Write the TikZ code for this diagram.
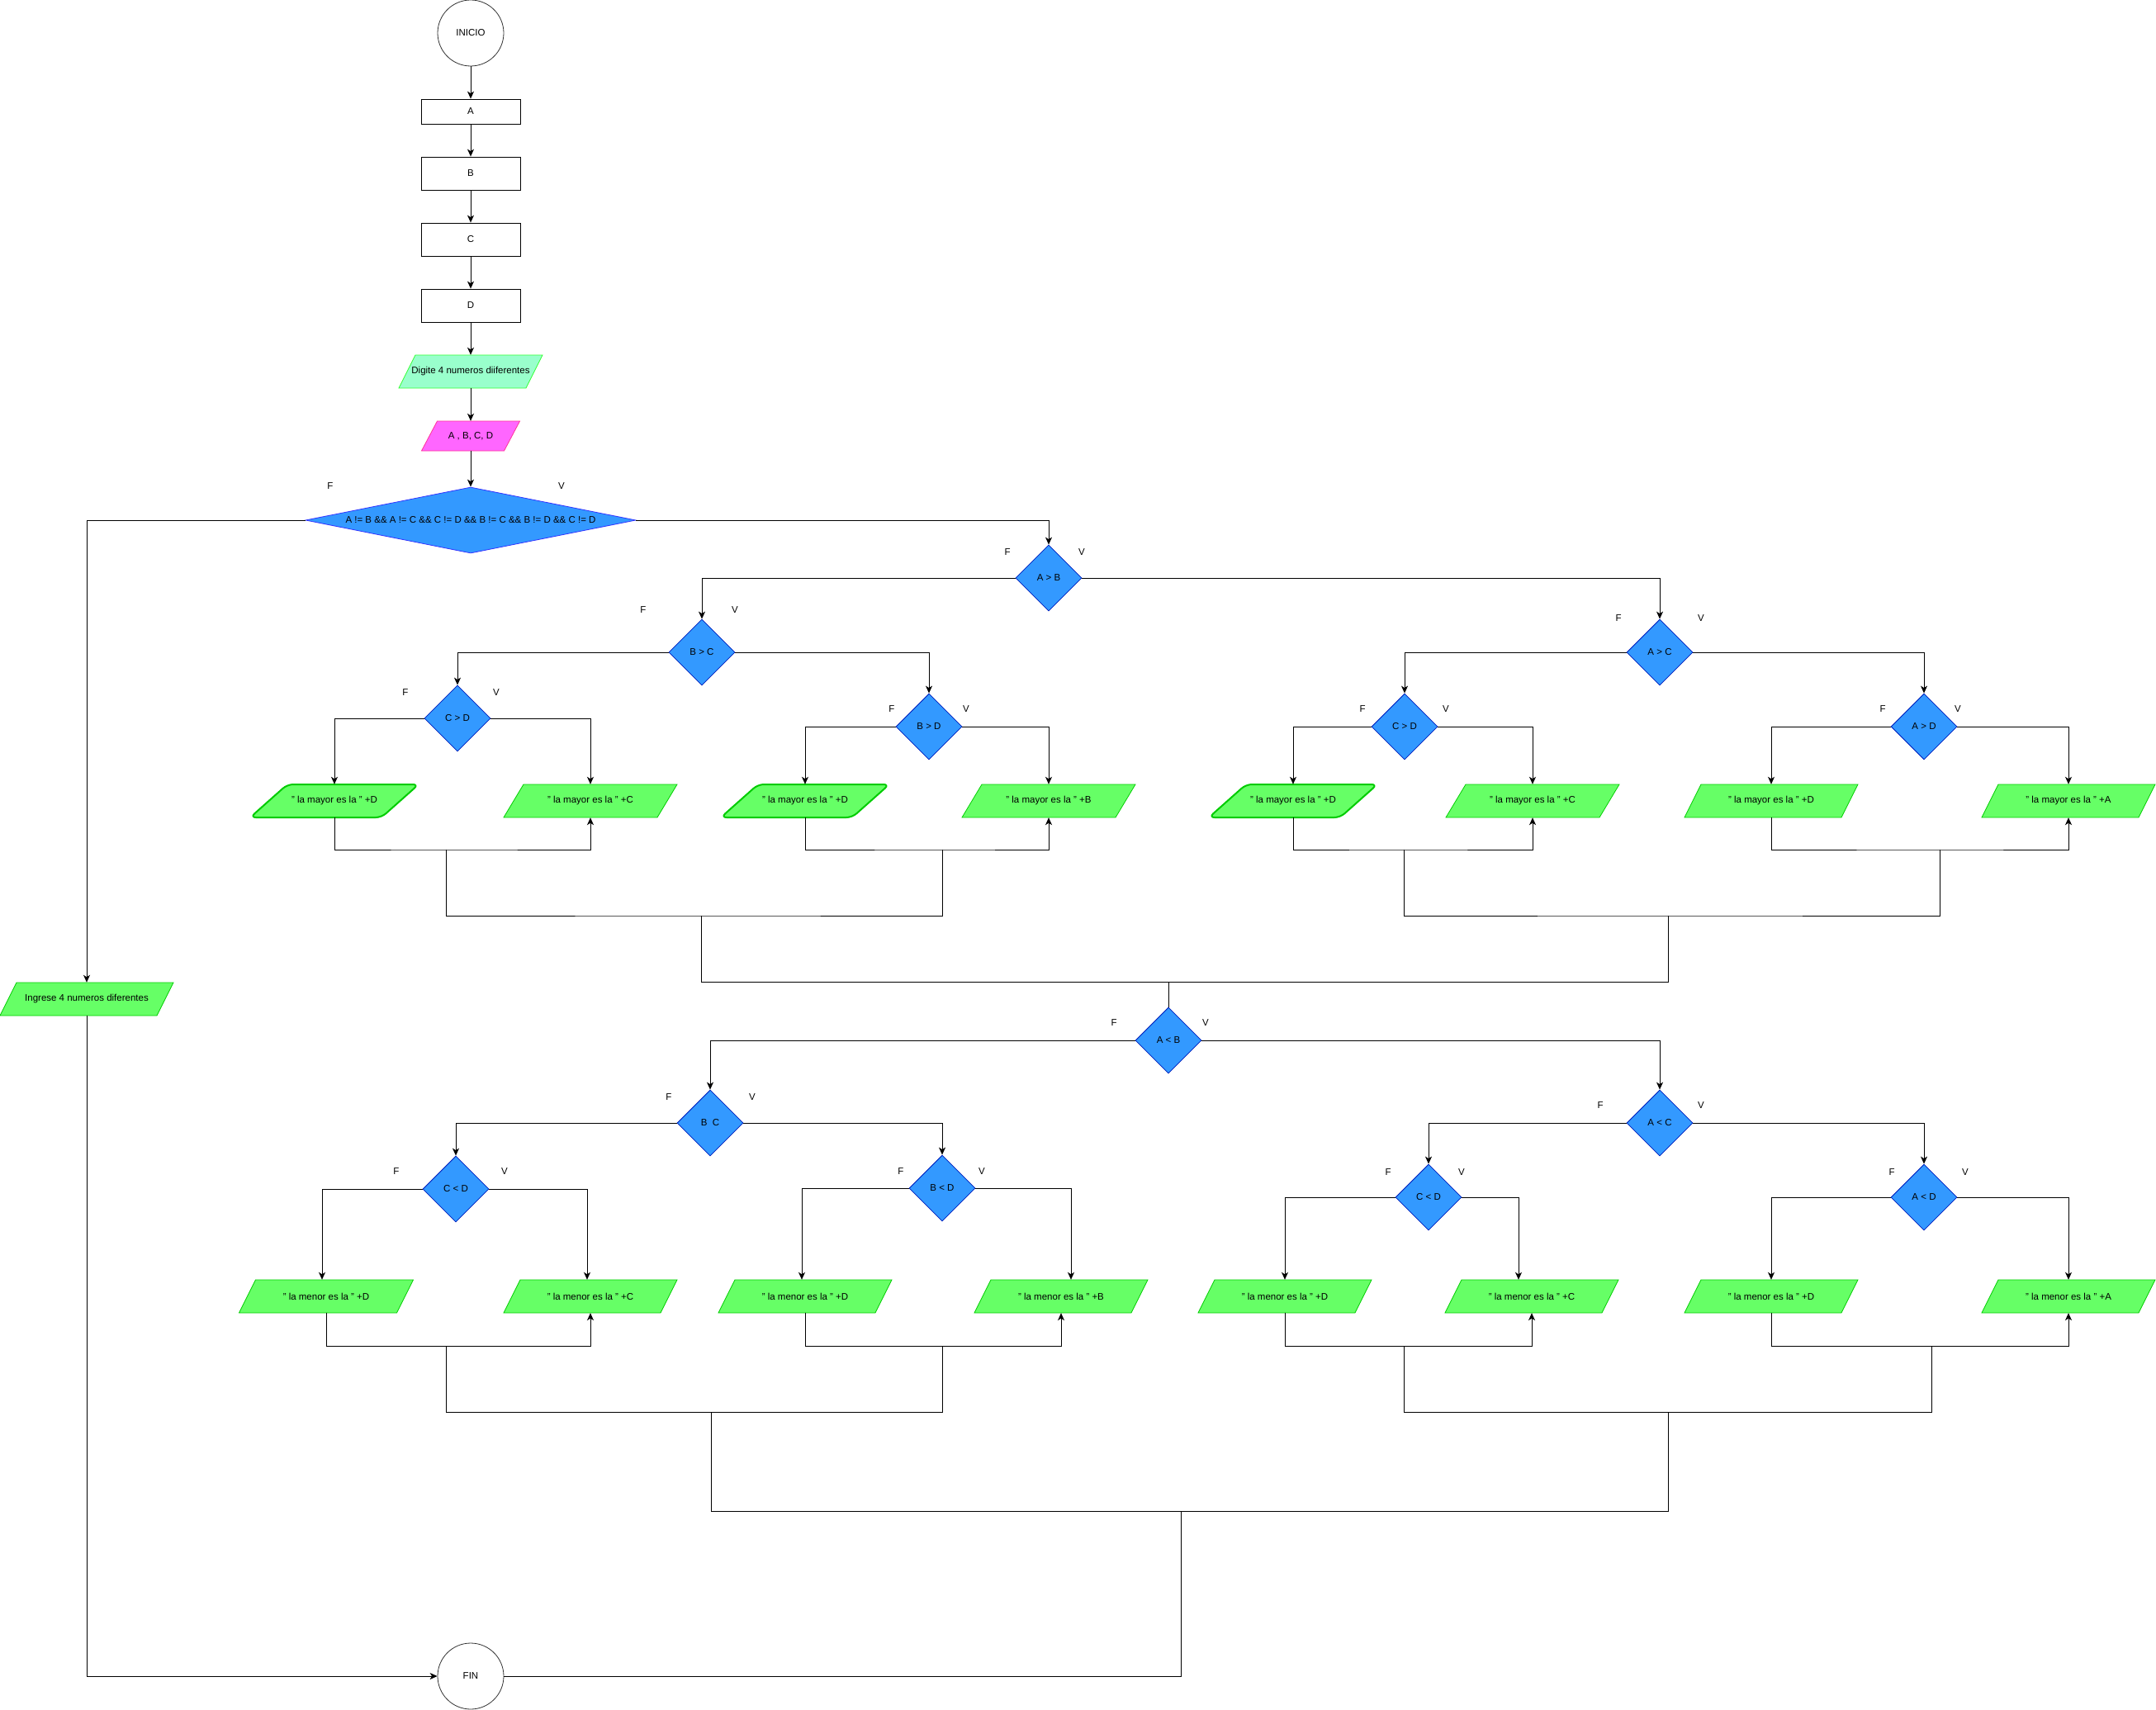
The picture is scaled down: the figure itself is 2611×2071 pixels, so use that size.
\documentclass[tikz,border=0pt]{standalone}
\usepackage{fontspec}
\setmainfont{Liberation Sans}
\usetikzlibrary{shapes.geometric,arrows.meta}
\definecolor{decf}{HTML}{3399FF}
\definecolor{decd}{HTML}{001DBC}
\definecolor{bigd}{HTML}{3333FF}
\definecolor{grf}{HTML}{66FF66}
\definecolor{grd}{HTML}{00CC00}
\definecolor{mintf}{HTML}{99FFCC}
\definecolor{mintd}{HTML}{33FF33}
\definecolor{pinkf}{HTML}{FF66FF}
\definecolor{pinkd}{HTML}{FF3399}
\definecolor{termd}{HTML}{333333}
\newcommand{\fsz}{\fontsize{11.5}{13}\selectfont}
% #1 name, #2 x, #3 y, #4 total width, #5 height, #6 slant, #7 style, #8 text
\newcommand{\iobox}[8]{%
  \path[#7] ({#2-#4/2},{#3+#5/2}) -- ({#2-#4/2+#6},{#3-#5/2}) -- ({#2+#4/2},{#3-#5/2}) -- ({#2+#4/2-#6},{#3+#5/2}) -- cycle;
  \node[rectangle, minimum width=#4pt, minimum height=#5pt] (#1) at (#2,#3) {#8};}
\begin{document}
\begin{tikzpicture}[x=1pt,y=-1pt,
  every node/.style={font=\fsz, inner sep=0pt, text=black},
  term/.style={circle, draw=termd, minimum size=80pt, line width=0.8pt},
  proc/.style={rectangle, draw, minimum width=120pt, minimum height=40pt, line width=0.8pt},
  dec/.style={diamond, draw=decd, fill=decf, minimum width=80pt, minimum height=80pt, line width=0.8pt},
  iost/.style={draw=grd, fill=grf, line width=0.8pt},
  iorr/.style={draw=grd, fill=grf, line width=2pt, rounded corners=7pt},
  lbl/.style={font=\fsz},
  arr/.style={line width=1pt, -{Stealth[length=9pt,width=8pt,inset=2.5pt]}},
  ln/.style={line width=1pt}]
\useasboundingbox (0,0) rectangle (2611,2071);
% ---- top chain
\node[term] (ini) at (570,40) {INICIO};
\node[proc, minimum height=30pt] (na) at (570,135) {A};
\node[proc] (nb) at (570,210) {B};
\node[proc] (nc) at (570,290) {C};
\node[proc] (nd) at (570,370) {D};
\iobox{dig}{570}{450}{174}{40}{20}{draw=mintd, fill=mintf, line width=0.8pt}{Digite 4 numeros diiferentes}
\iobox{pk}{570}{528}{119}{36}{19}{draw=pinkd, fill=pinkf, line width=0.8pt}{A , B, C, D}
\node[dec, draw=bigd, aspect=5, minimum width=400pt, minimum height=80pt] (big) at (570,630) {A != B \&\& A != C \&\& C != D \&\& B != C \&\& B != D \&\& C != D};
\draw[arr] (ini) -- (na);
\draw[arr] (na) -- (nb);
\draw[arr] (nb) -- (nc);
\draw[arr] (nc) -- (nd);
\draw[arr] (nd) -- (dig);
\draw[arr] (dig) -- (pk);
\draw[arr] (pk) -- (big);
\node[lbl] (fbig) at (400,589) {F};
\node[lbl] (vbig) at (680,589) {V};
% ---- upper decisions
\node[dec] (ab) at (1270,700) {A > B};
\node[dec] (bc) at (850,790) {B > C};
\node[dec] (ac) at (2010,790) {A > C};
\node[dec] (cd1) at (554,870) {C > D};
\node[dec] (bd1) at (1125,880) {B > D};
\node[dec] (cd2) at (1701,880) {C > D};
\node[dec] (ad1) at (2330,880) {A > D};
\node[lbl] (fab) at (1220,669) {F}; \node[lbl] (vab) at (1310,669) {V};
\node[lbl] (fbc) at (779,739) {F}; \node[lbl] (vbc) at (890,739) {V};
\node[lbl] (fac) at (1960,749) {F}; \node[lbl] (vac) at (2060,749) {V};
\node[lbl] (fcd1) at (491,839) {F}; \node[lbl] (vcd1) at (601,839) {V};
\node[lbl] (fbd1) at (1080,859) {F}; \node[lbl] (vbd1) at (1170,859) {V};
\node[lbl] (fcd2) at (1650,859) {F}; \node[lbl] (vcd2) at (1751,859) {V};
\node[lbl] (fad1) at (2280,859) {F}; \node[lbl] (vad1) at (2371,859) {V};
\draw[arr] (big.east) -| (ab.north);
\draw[arr] (ab.west) -| (bc.north);
\draw[arr] (ab.east) -| (ac.north);
\draw[arr] (bc.west) -| (cd1.north);
\draw[arr] (bc.east) -| (bd1.north);
\draw[arr] (ac.west) -| (cd2.north);
\draw[arr] (ac.east) -| (ad1.north);
% ---- upper outputs
\iobox{p1}{405}{970}{204}{40}{45}{iorr}{" la mayor es la " +D}
\iobox{p2}{715}{970}{210}{40}{24}{iost}{" la mayor es la " +C}
\iobox{p3}{975}{970}{204}{40}{45}{iorr}{" la mayor es la " +D}
\iobox{p4}{1270}{970}{210}{40}{24}{iost}{" la mayor es la " +B}
\iobox{p5}{1566}{970}{204}{40}{45}{iorr}{" la mayor es la " +D}
\iobox{p6}{1856}{970}{210}{40}{24}{iost}{" la mayor es la " +C}
\iobox{p7}{2145}{970}{210}{40}{20}{iost}{" la mayor es la " +D}
\iobox{p8}{2505}{970}{210}{40}{20}{iost}{" la mayor es la " +A}
\draw[arr] (cd1.west) -| (p1.north);
\draw[arr] (cd1.east) -| (p2.north);
\draw[arr] (bd1.west) -| (p3.north);
\draw[arr] (bd1.east) -| (p4.north);
\draw[arr] (cd2.west) -| (p5.north);
\draw[arr] (cd2.east) -| (p6.north);
\draw[arr] (ad1.west) -| (p7.north);
\draw[arr] (ad1.east) -| (p8.north);
\coordinate (m1) at (540,1029);
\coordinate (m2) at (1141,1029);
\coordinate (m3) at (1700,1029);
\coordinate (m4) at (2349,1029);
\draw[arr] (p1.south) |- (m1) -| (p2.south);
\draw[arr] (p3.south) |- (m2) -| (p4.south);
\draw[arr] (p5.south) |- (m3) -| (p6.south);
\draw[arr] (p7.south) |- (m4) -| (p8.south);
\coordinate (n1) at (849,1109);
\coordinate (n2) at (2020,1109);
\draw[ln] (m1) |- (n1) -| (m2);
\draw[ln] (m3) |- (n2) -| (m4);
\coordinate (r1) at (1415,1189);
\draw[ln] (n1) |- (r1) -| (n2);
% ---- lower decisions
\node[dec] (ab2) at (1415,1260) {A < B};
\node[dec] (bc2) at (860,1360) {B~~C};
\node[dec] (ac2) at (2010,1360) {A < C};
\node[dec] (cd3) at (552,1440) {C < D};
\node[dec] (bd2) at (1141,1439) {B < D};
\node[dec] (cd4) at (1730,1450) {C < D};
\node[dec] (ad2) at (2330,1450) {A < D};
\draw[ln] (r1) -- (ab2.north);
\node[lbl] (fab2) at (1349,1239) {F}; \node[lbl] (vab2) at (1460,1239) {V};
\node[lbl] (fbc2) at (810,1329) {F}; \node[lbl] (vbc2) at (911,1329) {V};
\node[lbl] (fac2) at (1938,1339) {F}; \node[lbl] (vac2) at (2060,1339) {V};
\node[lbl] (fcd3) at (480,1419) {F}; \node[lbl] (vcd3) at (611,1419) {V};
\node[lbl] (fbd2) at (1091,1419) {F}; \node[lbl] (vbd2) at (1189,1419) {V};
\node[lbl] (fcd4) at (1681,1420) {F}; \node[lbl] (vcd4) at (1770,1420) {V};
\node[lbl] (fad2) at (2291,1420) {F}; \node[lbl] (vad2) at (2380,1420) {V};
\draw[arr] (ab2.west) -| (bc2.north);
\draw[arr] (ab2.east) -| (ac2.north);
\draw[arr] (bc2.west) -| (cd3.north);
\draw[arr] (bc2.east) -| (bd2.north);
\draw[arr] (ac2.west) -| (cd4.north);
\draw[arr] (ac2.east) -| (ad2.north);
% ---- lower outputs
\iobox{q1}{395}{1570}{211}{40}{20}{iost}{" la menor es la " +D}
\iobox{q2}{715}{1570}{210}{40}{20}{iost}{" la menor es la " +C}
\iobox{q3}{975}{1570}{210}{40}{20}{iost}{" la menor es la " +D}
\iobox{q4}{1285}{1570}{210}{40}{20}{iost}{" la menor es la " +B}
\iobox{q5}{1556}{1570}{210}{40}{20}{iost}{" la menor es la " +D}
\iobox{q6}{1855}{1570}{210}{40}{20}{iost}{" la menor es la " +C}
\iobox{q7}{2145}{1570}{210}{40}{20}{iost}{" la menor es la " +D}
\iobox{q8}{2505}{1570}{210}{40}{20}{iost}{" la menor es la " +A}
\draw[arr] (cd3.west) -| ([xshift=-5pt]q1.north);
\draw[arr] (cd3.east) -| ([xshift=-4pt]q2.north);
\draw[arr] (bd2.west) -| ([xshift=-4pt]q3.north);
\draw[arr] (bd2.east) -| ([xshift=12pt]q4.north);
\draw[arr] (cd4.west) -| (q5.north);
\draw[arr] (cd4.east) -| ([xshift=-16pt]q6.north);
\draw[arr] (ad2.west) -| (q7.north);
\draw[arr] (ad2.east) -| (q8.north);
\coordinate (m5) at (540,1630);
\coordinate (m6) at (1141,1630);
\coordinate (m7) at (1700,1630);
\coordinate (m8) at (2339,1630);
\draw[arr] (q1.south) |- (m5) -| (q2.south);
\draw[arr] (q3.south) |- (m6) -| (q4.south);
\draw[arr] (q5.south) |- (m7) -| (q6.south);
\draw[arr] (q7.south) |- (m8) -| (q8.south);
\coordinate (n3) at (861,1710);
\coordinate (n4) at (2020,1710);
\draw[ln] (m5) |- (n3) -| (m6);
\draw[ln] (m7) |- (n4) -| (m8);
\coordinate (r2) at (1430,1830);
\draw[ln] (n3) |- (r2) -| (n4);
% ---- end
\node[term] (fin) at (570,2030) {FIN};
\draw[ln] (r2) |- (fin.east);
\iobox{ing}{105}{1210}{210}{40}{20}{iost}{Ingrese 4 numeros diferentes}
\draw[arr] (big.west) -| (ing.north);
\draw[arr] (ing.south) |- (fin.west);
\end{tikzpicture}
\end{document}
